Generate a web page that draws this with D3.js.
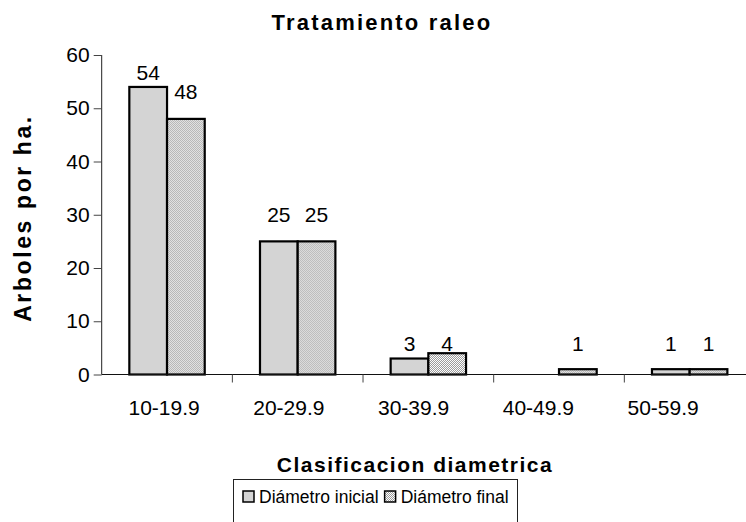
<!DOCTYPE html>
<html>
<head>
<meta charset="utf-8">
<script src="https://cdn.jsdelivr.net/npm/d3@7"></script>
<style>
  html, body { margin: 0; padding: 0; background: #fff; }
  svg { display: block; font-family: "Liberation Sans", Arial, sans-serif; }
</style>
</head>
<body>
<svg id="chart" width="746" height="522"></svg>
<script>
// Diameter classes and tree counts per hectare
const categories = ["10-19.9", "20-29.9", "30-39.9", "40-49.9", "50-59.9"];
const seriesNames = ["Diámetro inicial", "Diámetro final"];
const inicial = [54, 25, 3, 0, 1];
const final = [48, 25, 4, 1, 1];
const yTicks = [0, 10, 20, 30, 40, 50, 60];

const svg = d3.select("#chart");
const W = 746, H = 522;
const plot = { left: 101.7, right: 755, top: 55, bottom: 374.5 };

// fill pattern for the second series
const defs = svg.append("defs");
const pat = defs.append("pattern")
  .attr("id", "dots").attr("width", 2).attr("height", 2)
  .attr("patternUnits", "userSpaceOnUse");
pat.append("rect").attr("width", 2).attr("height", 2).attr("fill", "#ffffff");
pat.append("rect").attr("width", 1).attr("height", 1).attr("fill", "#9a9a9a");
pat.append("rect").attr("x", 1).attr("y", 1).attr("width", 1).attr("height", 1).attr("fill", "#9a9a9a");

const fills = ["#d4d4d4", "url(#dots)"];

const x = d3.scaleBand().domain(categories)
  .range([plot.left, plot.right]).paddingInner(0).paddingOuter(0);
const xLabel = d3.scaleBand().domain(categories)
  .range([plot.left, 725.5]);
const xs = d3.scaleBand().domain([0, 1])
  .range([0, x.bandwidth()]).paddingOuter(0.733).paddingInner(0);
const y = d3.scaleLinear().domain([0, 60]).range([plot.bottom, plot.top]);

const table = categories.map((c, i) => ({ cat: c, vals: [inicial[i], final[i]] }));

// bars
const groups = svg.append("g").selectAll("g").data(table).join("g")
  .attr("transform", d => `translate(${x(d.cat)},0)`);

groups.selectAll("rect").data(d => d.vals.map((v, s) => ({ v, s })))
  .join("rect")
  .filter(d => d.v > 0)
  .attr("x", d => xs(d.s))
  .attr("y", d => y(d.v))
  .attr("width", xs.bandwidth())
  .attr("height", d => y(0) - y(d.v))
  .attr("fill", d => fills[d.s])
  .attr("stroke", "#000")
  .attr("stroke-width", 2.2);

// value labels: short bars share one label row near the baseline
function labelY(v) {
  if (v < 10) return y(0) - 31;
  return Math.max(y(v) - 27, plot.top + 17);
}
groups.selectAll("text.val").data(d => d.vals.map((v, s) => ({ v, s })))
  .join("text")
  .filter(d => d.v > 0)
  .attr("class", "val")
  .attr("x", d => xs(d.s) + xs.bandwidth() / 2)
  .attr("y", d => labelY(d.v))
  .attr("dy", "0.36em")
  .attr("text-anchor", "middle")
  .attr("font-size", 21)
  .attr("fill", "#000")
  .text(d => d.v);

// y axis
const yAxis = svg.append("g")
  .attr("transform", `translate(${plot.left},0)`)
  .call(d3.axisLeft(y).tickValues(yTicks).tickSize(8).tickPadding(4).tickFormat(d3.format("d")));
yAxis.select(".domain").attr("stroke", "#222").attr("d", `M0,${plot.top}V${plot.bottom}`);
yAxis.selectAll(".tick line").attr("stroke", "#444");
yAxis.selectAll("text").attr("font-size", 21).attr("fill", "#000")
  .attr("font-family", "Liberation Sans, Arial, sans-serif");

// x axis line and tick marks
const xAxis = svg.append("g")
  .attr("transform", `translate(0,${plot.bottom})`);
xAxis.append("line").attr("x1", plot.left).attr("x2", W)
  .attr("stroke", "#111").attr("stroke-width", 1.2);
xAxis.selectAll("line.tick").data(categories.slice(1))
  .join("line").attr("class", "tick")
  .attr("x1", d => x(d)).attr("x2", d => x(d))
  .attr("y1", 0).attr("y2", 8)
  .attr("stroke", "#444");
xAxis.selectAll("text").data(categories).join("text")
  .attr("x", d => xLabel(d) + xLabel.bandwidth() / 2)
  .attr("y", 40)
  .attr("text-anchor", "middle")
  .attr("font-size", 21)
  .attr("fill", "#000")
  .text(d => d);

// titles
svg.append("text")
  .attr("x", 382).attr("y", 30)
  .attr("text-anchor", "middle")
  .attr("font-size", 22).attr("font-weight", "bold")
  .attr("letter-spacing", 2.2)
  .text("Tratamiento raleo");

svg.append("text")
  .attr("x", 415).attr("y", 472)
  .attr("text-anchor", "middle")
  .attr("font-size", 21).attr("font-weight", "bold")
  .attr("letter-spacing", 1.5)
  .text("Clasificacion diametrica");

svg.append("text")
  .attr("transform", "translate(31,218) rotate(-90)")
  .attr("text-anchor", "middle")
  .attr("font-size", 23).attr("font-weight", "bold")
  .attr("letter-spacing", 2.6)
  .text("Arboles por ha.");

// legend
const lg = svg.append("g");
lg.append("rect").attr("x", 233.5).attr("y", 479.5)
  .attr("width", 284).attr("height", 60)
  .attr("fill", "#fff").attr("stroke", "#222").attr("stroke-width", 1);
let lx = 243;
seriesNames.forEach((name, i) => {
  lg.append("rect").attr("x", lx).attr("y", 491)
    .attr("width", 11).attr("height", 11)
    .attr("fill", fills[i]).attr("stroke", "#000").attr("stroke-width", 1.5);
  const t = lg.append("text").attr("x", lx + 16).attr("y", 503)
    .attr("font-size", 17.5).attr("fill", "#000")
    .text(name);
  lx += 16 + t.node().getComputedTextLength() + 6;
});
</script>
</body>
</html>
